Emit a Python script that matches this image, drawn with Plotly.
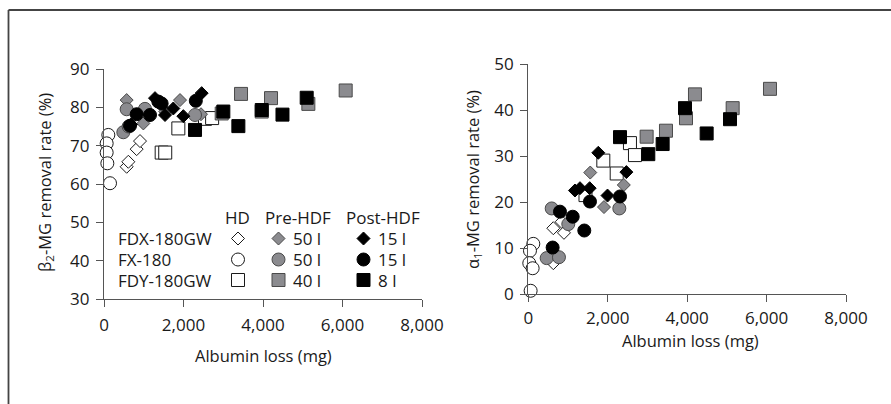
import plotly.graph_objects as go

W, H = 891, 404

# ---------------- data (left panel: beta2-MG) ----------------
b2_hd_fdx_x = [570, 612, 822, 906]
b2_hd_fdx_y = [64.5, 65.8, 69.1, 71.2]
b2_hd_fx_x = [109, 67, 67, 84, 151]
b2_hd_fx_y = [72.8, 70.6, 68.2, 65.4, 60.2]
b2_hd_fdy_x = [1451, 1540, 1870, 2541, 2720]
b2_hd_fdy_y = [68.2, 68.2, 74.5, 77.0, 77.2]
b2_pre_fdx_x = [570, 990, 1540, 1912, 2440]
b2_pre_fdx_y = [81.9, 75.8, 78.9, 81.9, 78.2]
b2_pre_fx_x = [486, 570, 620, 1031, 2290]
b2_pre_fx_y = [73.5, 79.5, 75.0, 79.6, 78.0]
b2_pre_fdy_x = [2961, 3447, 3968, 4202, 5141, 6080]
b2_pre_fdy_y = [78.4, 83.5, 78.9, 82.4, 80.9, 84.4]
b2_post_fdx_x = [680, 1283, 1535, 1744, 1996, 2457]
b2_post_fdx_y = [75.5, 82.4, 78.0, 79.7, 77.7, 83.7]
b2_post_fx_x = [654, 822, 1157, 1367, 1450, 2310]
b2_post_fx_y = [75.2, 78.2, 78.0, 81.5, 81.0, 81.7]
b2_post_fdy_x = [2290, 3002, 3380, 3968, 4490, 5099]
b2_post_fdy_y = [74.1, 78.9, 75.1, 79.3, 78.1, 82.5]

# ---------------- data (right panel: alpha1-MG) ----------------
a1_hd_fdx_x = [630, 630, 840, 898]
a1_hd_fdx_y = [6.7, 14.3, 15.7, 13.3]
a1_hd_fx_x = [126, 42, 25, 109, 59, 143]
a1_hd_fx_y = [10.9, 9.4, 6.7, 5.6, 0.7, -0.2]
a1_hd_fdy_x = [1440, 1889, 2226, 2560, 2686]
a1_hd_fdy_y = [21.5, 29.0, 26.2, 32.8, 30.2]
a1_pre_fdx_x = [1560, 1906, 2405]
a1_pre_fdx_y = [26.4, 18.9, 23.7]
a1_pre_fx_x = [462, 589, 772, 1007, 2292]
a1_pre_fx_y = [7.8, 18.6, 8.0, 15.2, 18.6]
a1_pre_fdy_x = [2980, 3467, 3971, 4197, 5146, 6086]
a1_pre_fdy_y = [34.2, 35.5, 38.2, 43.4, 40.4, 44.6]
a1_post_fdx_x = [1175, 1301, 1545, 1763, 1995, 2470]
a1_post_fdx_y = [22.5, 23.0, 23.0, 30.7, 21.4, 26.5]
a1_post_fx_x = [613, 798, 1118, 1410, 1553, 2309]
a1_post_fx_y = [10.1, 17.9, 16.8, 13.8, 20.1, 21.2]
a1_post_fdy_x = [2309, 3022, 3383, 3946, 4491, 5079]
a1_post_fdy_y = [34.1, 30.4, 32.6, 40.4, 34.9, 38.0]

# ---------------- text ----------------
dialyzers = ["FDX-180GW", "FX-180", "FDY-180GW"]
modes = ["HD", "Pre-HDF", "Post-HDF"]
pre_volumes = ["50 l", "50 l", "40 l"]
post_volumes = ["15 l", "15 l", "8 l"]
x_title = "Albumin loss (mg)"
b2_title = "β<sub>2</sub>-MG removal rate (%)"
a1_title = "α<sub>1</sub>-MG removal rate (%)"

x_ticks = [0, 2000, 4000, 6000, 8000]
b2_ticks = [30, 40, 50, 60, 70, 80, 90]
a1_ticks = [0, 10, 20, 30, 40, 50]

# ---------------- styles ----------------
FONT = "Open Sans"
TXT = "#1a1a1a"
AX = "#555555"
FILL = {"HD": "white", "Pre-HDF": "#8b8b8f", "Post-HDF": "black"}
EDGE = {"HD": "#1a1a1a", "Pre-HDF": "#4a4a4a", "Post-HDF": "black"}
SYM = {"FDX-180GW": "diamond", "FX-180": "circle", "FDY-180GW": "square"}
SIZE = {"diamond": 10, "circle": 13, "square": 13}

series = [
    ("HD", "FDX-180GW", b2_hd_fdx_x, b2_hd_fdx_y, a1_hd_fdx_x, a1_hd_fdx_y),
    ("HD", "FX-180", b2_hd_fx_x, b2_hd_fx_y, a1_hd_fx_x, a1_hd_fx_y),
    ("HD", "FDY-180GW", b2_hd_fdy_x, b2_hd_fdy_y, a1_hd_fdy_x, a1_hd_fdy_y),
    ("Pre-HDF", "FDX-180GW", b2_pre_fdx_x, b2_pre_fdx_y, a1_pre_fdx_x, a1_pre_fdx_y),
    ("Pre-HDF", "FX-180", b2_pre_fx_x, b2_pre_fx_y, a1_pre_fx_x, a1_pre_fx_y),
    ("Pre-HDF", "FDY-180GW", b2_pre_fdy_x, b2_pre_fdy_y, a1_pre_fdy_x, a1_pre_fdy_y),
    ("Post-HDF", "FDX-180GW", b2_post_fdx_x, b2_post_fdx_y, a1_post_fdx_x, a1_post_fdx_y),
    ("Post-HDF", "FX-180", b2_post_fx_x, b2_post_fx_y, a1_post_fx_x, a1_post_fx_y),
    ("Post-HDF", "FDY-180GW", b2_post_fdy_x, b2_post_fdy_y, a1_post_fdy_x, a1_post_fdy_y),
]


def marker(mode, dial):
    s = SYM[dial]
    return dict(symbol=s, size=SIZE[s], color=FILL[mode],
                line=dict(color=EDGE[mode], width=1))


fig = go.Figure()
for mode, dial, bx, by, ax_, ay in series:
    fig.add_trace(go.Scatter(x=bx, y=by, mode="markers", xaxis="x", yaxis="y",
                             marker=marker(mode, dial), cliponaxis=False,
                             name=f"{dial} {mode}", showlegend=False))
    fig.add_trace(go.Scatter(x=ax_, y=ay, mode="markers", xaxis="x2", yaxis="y2",
                             marker=marker(mode, dial), cliponaxis=False,
                             name=f"{dial} {mode}", showlegend=False))

# ---------------- legend table (pixel overlay axis) ----------------
LEG_ROW_Y = [238.5, 259.5, 280.0]
LEG_HEAD_Y = 217.5
LEG_MARK_X = {"HD": 238.0, "Pre-HDF": 278.5, "Post-HDF": 363.5}
LEG_HEAD_X = {"HD": 237.5, "Pre-HDF": 298.0, "Post-HDF": 383.0}
LEG_LABEL_X = 116.5
LEG_VOL_X = {"Pre-HDF": 291.5, "Post-HDF": 376.5}

for mode in modes:
    for r, dial in enumerate(dialyzers):
        fig.add_trace(go.Scatter(x=[LEG_MARK_X[mode]], y=[LEG_ROW_Y[r]], mode="markers",
                                 xaxis="x3", yaxis="y3", marker=marker(mode, dial),
                                 cliponaxis=False, showlegend=False, hoverinfo="skip"))

ann = []
def px_ann(text, x, y, xanchor, size=17, angle=0):
    ann.append(dict(text=text, x=x / W, y=1 - y / H, xref="paper", yref="paper",
                    xanchor=xanchor, yanchor="middle", showarrow=False, textangle=angle,
                    borderpad=0, font=dict(family=FONT, size=size, color=TXT)))

for mode in modes:
    px_ann(mode, LEG_HEAD_X[mode], LEG_HEAD_Y, "center")
for r, dial in enumerate(dialyzers):
    px_ann(dial, LEG_LABEL_X, LEG_ROW_Y[r], "left")
    px_ann(pre_volumes[r], LEG_VOL_X["Pre-HDF"], LEG_ROW_Y[r], "left")
    px_ann(post_volumes[r], LEG_VOL_X["Post-HDF"], LEG_ROW_Y[r], "left")

# axis titles
px_ann(x_title, 263, 355, "center", size=16.5)
px_ann(x_title, 690, 340, "center", size=16.5)
px_ann(b2_title, 45, 183, "center", size=16.5, angle=-90)
px_ann(a1_title, 473, 180, "center", size=16.5, angle=-90)

axis_common = dict(showline=True, linecolor=AX, linewidth=1.3, ticks="outside",
                   ticklen=7, tickwidth=1.3, tickcolor=AX, showgrid=False,
                   zeroline=False, tickfont=dict(family=FONT, size=17, color=TXT))

fig.update_layout(
    width=W, height=H, autosize=False,
    margin=dict(l=0, r=0, t=0, b=0, pad=0, autoexpand=False),
    paper_bgcolor="white", plot_bgcolor="rgba(0,0,0,0)",
    showlegend=False,
    font=dict(family=FONT, color=TXT),
    xaxis=dict(domain=[104 / W, 422 / W], range=[0, 8000], tickvals=x_ticks,
               tickformat=",d", anchor="y", ticklabelstandoff=3, **axis_common),
    yaxis=dict(domain=[1 - 299 / H, 1 - 69 / H], range=[30, 90], tickvals=b2_ticks,
               anchor="x", ticklabelstandoff=3, **axis_common),
    xaxis2=dict(domain=[528.3 / W, 846 / W], range=[0, 8000], tickvals=x_ticks,
                tickformat=",d", anchor="y2", ticklabelstandoff=1, **axis_common),
    yaxis2=dict(domain=[1 - 294 / H, 1 - 64 / H], range=[0, 50], tickvals=a1_ticks,
                anchor="x2", ticklabelstandoff=3, **axis_common),
    xaxis3=dict(domain=[0, 1], range=[0, W], visible=False, anchor="y3", fixedrange=True),
    yaxis3=dict(domain=[0, 1], range=[H, 0], visible=False, anchor="x3", fixedrange=True),
    annotations=ann,
    shapes=[
        dict(type="line", xref="paper", yref="paper", x0=8.5 / W, x1=8.5 / W,
             y0=0, y1=1 - 10 / H, line=dict(color="#444444", width=1.8)),
        dict(type="line", xref="paper", yref="paper", x0=8.5 / W, x1=1,
             y0=1 - 10 / H, y1=1 - 10 / H, line=dict(color="#444444", width=1.8)),
    ],
)

fig.write_html(
    "out.html",
    config={"displayModeBar": False, "responsive": False},
    post_script="document.body.style.margin='0';document.body.style.overflow='hidden';",
)
